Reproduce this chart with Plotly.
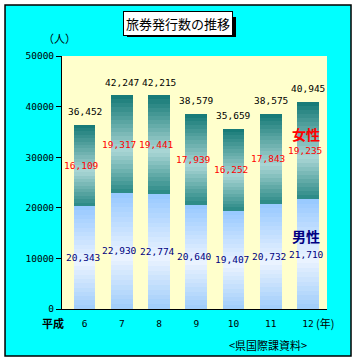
import plotly.graph_objects as go

years = ["6", "7", "8", "9", "10", "11", "12"]
male = [20343, 22930, 22774, 20640, 19407, 20732, 21710]
female = [16109, 19317, 19441, 17939, 16252, 17843, 19235]
total = [36452, 42247, 42215, 38579, 35659, 38575, 40945]
yticks = [0, 10000, 20000, 30000, 40000, 50000]

N = 24


def lerp(c1, c2, t):
    return "rgb(%d,%d,%d)" % tuple(round(a + (b - a) * t) for a, b in zip(c1, c2))


def grad(t, top, mid, bot, p):
    # t: 0 at top of segment, 1 at bottom
    if t < p:
        return lerp(top, mid, t / p)
    return lerp(mid, bot, (t - p) / (1 - p))


fig = go.Figure()

# male segment slices (bottom to top)
for i in range(N):
    t = 1 - (i + 0.5) / N
    c = grad(t, (150, 200, 255), (236, 244, 255), (158, 204, 250), 0.55)
    fig.add_trace(go.Bar(x=years, y=[m / N for m in male], marker_color=c,
                         marker_line_width=0, showlegend=False, hoverinfo="skip"))
# female segment slices
for i in range(N):
    t = 1 - (i + 0.5) / N
    c = grad(t, (18, 120, 116), (170, 214, 213), (40, 136, 132), 0.57)
    fig.add_trace(go.Bar(x=years, y=[f / N for f in female], marker_color=c,
                         marker_line_width=0, showlegend=False, hoverinfo="skip"))

num_font = "DejaVu Sans Mono"
NS = 9.5
ann = []
for i, (m, f, tt) in enumerate(zip(male, female, total)):
    ann.append(dict(x=i, y=tt, xref="x", yref="y", text=f"{tt:,}", showarrow=False,
                    yshift=13, font=dict(family=num_font, size=NS, color="black")))
    ann.append(dict(x=i, y=m + f / 2, xref="x", yref="y", text=f"{f:,}", showarrow=False,
                    xshift=-3, font=dict(family=num_font, size=NS, color="#FF0000")))
    ann.append(dict(x=i, y=m / 2, xref="x", yref="y", text=f"{m:,}", showarrow=False,
                    xshift=-2, font=dict(family=num_font, size=NS, color="#000080")))

jp = "Noto Sans CJK JP"


def pa(x, y, text, size, color="black", **kw):
    d = dict(x=x, y=y, xref="paper", yref="paper", text=text, showarrow=False,
             xanchor="center", yanchor="middle", font=dict(family=jp, size=size, color=color))
    d.update(kw)
    return d


# title (shadow is a shape below it)
ann.append(pa(0.436, 1.130, "旅券発行数の推移", 13, bgcolor="white",
              bordercolor="black", borderwidth=1, borderpad=2))
ann.append(pa(-0.011, 1.071, "（人）", 11))
ann.append(pa(-0.034, -0.055, "<b>平成</b>", 11))
ann.append(pa(0.992, -0.055, "(年)", 11))
ann.append(pa(0.777, -0.142, "&lt;県国際課資料&gt;", 11))
ann.append(pa(0.921, 0.692, "<b>女性</b>", 14, "#FF0000"))
ann.append(pa(0.921, 0.289, "<b>男性</b>", 14, "#000080"))

shapes = [
    dict(type="rect", xref="paper", yref="paper", x0=-0.215, x1=1.0906, y0=-0.186, y1=1.2016,
         fillcolor="#00FFFF", line=dict(color="black", width=1.5), layer="below"),
    dict(type="rect", xref="paper", yref="paper", x0=0, x1=1, y0=0, y1=1,
         fillcolor="#FFFFCC", line=dict(width=0), layer="below"),
    dict(type="rect", xref="paper", yref="paper", x0=0.2453, x1=0.6566, y0=1.075, y1=1.154,
         fillcolor="black", line=dict(width=0), layer="above"),
]

fig.update_layout(
    width=359, height=363,
    margin=dict(l=62, r=32, t=56, b=54),
    paper_bgcolor="white", plot_bgcolor="#FFFFCC",
    barmode="stack", bargap=0.42,
    annotations=ann, shapes=shapes,
    xaxis=dict(type="category", categoryorder="array", categoryarray=years,
               showline=True, linecolor="black", linewidth=1, ticks="", showgrid=False,
               ticklabelstandoff=6, tickfont=dict(family=num_font, size=NS, color="black")),
    yaxis=dict(range=[0, 50000], tickvals=yticks, ticktext=[str(v) for v in yticks],
               showline=True, linecolor="black", linewidth=1, ticks="outside", ticklen=5,
               tickcolor="black", showgrid=False, zeroline=False,
               tickfont=dict(family=num_font, size=NS, color="black")),
)

fig.write_html("out.html", config={"displayModeBar": False},
               post_script="document.body.style.margin='0';")
